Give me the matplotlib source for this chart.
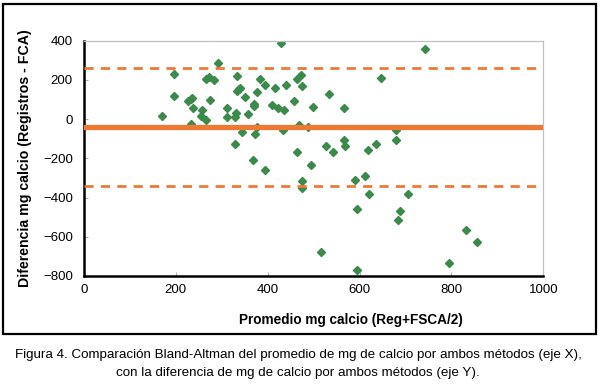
import matplotlib
matplotlib.use("Agg")
import matplotlib.pyplot as plt
from matplotlib.patches import Rectangle

plt.rcParams['font.family'] = ['Liberation Sans', 'DejaVu Sans']

# Bland-Altman points
promedio = [170, 195, 196, 227, 232, 236, 237, 234, 256, 255, 265, 266, 273, 284, 274,
            292, 311, 311, 329, 332, 333, 334, 337, 340, 329, 344, 351, 356, 370, 370,
            372, 368, 377, 383, 377, 395, 395, 409, 416, 423, 429, 434, 436, 440, 457,
            463, 473, 475, 464, 469, 487, 499, 494, 527, 534, 543, 565, 565, 568, 475,
            474, 589, 612, 594, 620, 618, 635, 647, 679, 679, 683, 687, 705, 742, 517,
            594, 795, 832, 855]
diferencia = [17, 228, 117, 93, 104, 109, 58, -27, 46, 15, -2, 206, 216, 199, 97,
              284, 58, 12, 9, 29, 219, 143, 152, 160, -129, -68, 111, 26, 66, 75,
              -77, -206, 136, 203, -40, 172, -260, 71, 157, 55, 388, -58, 49, 175, 92,
              206, 223, 170, -170, -31, -40, 63, -236, -136, 129, -167, 58, -109, -136, -316,
              -349, -313, -292, -458, -381, -156, -128, 208, -53, -106, -514, -468, -381, 359, -680,
              -770, -733, -568, -626]

media = -40
lim_sup = 263
lim_inf = -343

x_ticks = [0, 200, 400, 600, 800, 1000]
y_ticks = [-800, -600, -400, -200, 0, 200, 400]

verde = '#3b8a4c'
naranja = '#ec7a35'

fig = plt.figure(figsize=(6, 3.86), dpi=100)
ax = fig.add_axes([0.14, 0.285, 0.7655, 0.6096])

ax.plot(promedio, diferencia, linestyle='none', marker='D', markersize=4.2,
        color=verde, zorder=2)
ax.axhline(media, color=naranja, linewidth=3.8, zorder=3)
ax.axhline(lim_sup, color=naranja, linewidth=2.0, dashes=(3.3, 2.6), zorder=3)
ax.axhline(lim_inf, color=naranja, linewidth=2.0, dashes=(3.3, 2.6), zorder=3)

ax.set_xlim(0, 1000)
ax.set_ylim(-800, 400)
ax.set_xticks(x_ticks)
ax.set_yticks(y_ticks)
ax.tick_params(axis='both', direction='in', length=3, color='#b0b0b0',
               labelsize=9.5)
ax.tick_params(axis='y', pad=8)
ax.tick_params(axis='x', pad=6)

for s in ['left', 'bottom']:
    ax.spines[s].set_color('black')
    ax.spines[s].set_linewidth(1.8)
for s in ['top', 'right']:
    ax.spines[s].set_color('#c0c0c0')
    ax.spines[s].set_linewidth(0.9)

ax.set_ylabel('Diferencia mg calcio (Registros - FCA)', fontsize=10.2, fontweight='bold')
ax.yaxis.set_label_coords(-0.113, 0.5)
ax.set_xlabel('Promedio mg calcio (Reg+FSCA/2)', fontsize=9.8, fontweight='bold')
ax.xaxis.set_label_coords(0.581, -0.156)

# outer frame around the chart
fig.patches.append(Rectangle((3 / 600, 1 - 334 / 386), 593 / 600, 330 / 386,
                             transform=fig.transFigure, fill=False,
                             edgecolor='black', linewidth=1.6))

fig.text(0.497, 1 - 355 / 386,
         'Figura 4. Comparación Bland-Altman del promedio de mg de calcio por ambos métodos (eje X),',
         ha='center', va='center', fontsize=9.6)
fig.text(0.497, 1 - 373 / 386,
         'con la diferencia de mg de calcio por ambos métodos (eje Y).',
         ha='center', va='center', fontsize=9.6)

fig.savefig('out.png', dpi=100)
